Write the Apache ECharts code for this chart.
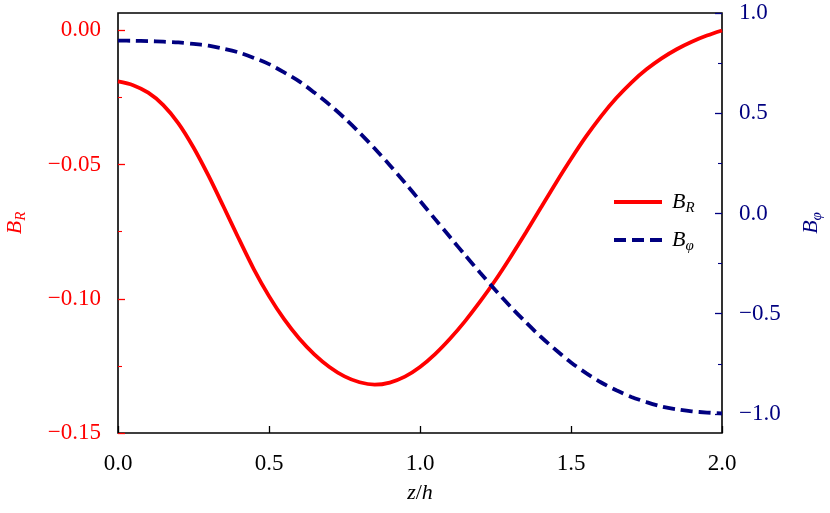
<!DOCTYPE html>
<html>
<head>
<meta charset="utf-8">
<script src="https://cdn.jsdelivr.net/npm/echarts@6/dist/echarts.min.js"></script>
<style>html,body{margin:0;padding:0;background:#fff}#c{width:830px;height:513px}</style>
</head>
<body>
<div id="c"></div>
<script>
// z/h sample positions
const zValues = [0.00,0.05,0.10,0.15,0.20,0.25,0.30,0.35,0.40,0.45,0.50,0.55,0.60,0.65,0.70,0.75,0.80,0.85,0.90,0.95,1.00,
                 1.05,1.10,1.15,1.20,1.25,1.30,1.35,1.40,1.45,1.50,1.55,1.60,1.65,1.70,1.75,1.80,1.85,1.90,1.95,2.00];
// B_R (left axis)
const bR = [-0.0190,-0.0204,-0.0232,-0.0278,-0.0346,-0.0436,-0.0542,-0.0658,-0.0776,-0.0890,-0.0990,-0.1076,-0.1148,-0.1207,-0.1254,-0.1289,-0.1311,-0.1320,-0.1312,-0.1290,-0.1254,
            -0.1206,-0.1148,-0.1082,-0.1009,-0.0930,-0.0844,-0.0754,-0.0661,-0.0568,-0.0479,-0.0395,-0.0319,-0.0252,-0.0194,-0.0145,-0.0104,-0.0070,-0.0042,-0.0019,0.0000];
// B_phi (right axis)
const bPhi = [0.862,0.8615,0.860,0.857,0.853,0.846,0.837,0.822,0.803,0.776,0.745,0.704,0.659,0.603,0.543,0.476,0.403,0.324,0.241,0.153,0.063,
              -0.028,-0.119,-0.209,-0.297,-0.383,-0.465,-0.542,-0.615,-0.681,-0.743,-0.796,-0.843,-0.882,-0.915,-0.941,-0.963,-0.977,-0.987,-0.993,-0.997];

const xTicks = [0, 0.5, 1.0, 1.5, 2.0];
const leftMajor = [-0.15, -0.10, -0.05, 0.00];
const leftMinor = [-0.125, -0.075, -0.025];
const rightMajor = [-1.0, -0.5, 0.0, 0.5, 1.0];
const rightMinor = [-0.75, -0.25, 0.25, 0.75];

const RED = '#ff0000';
const NAVY = '#000080';
const FONT = 'Liberation Serif';
const FS = 23;
const fmt = d => v => (v < 0 ? '\u2212' : '') + Math.abs(v).toFixed(d);

const richBase = (color) => ({
  i: {fontFamily: FONT, fontStyle: 'italic', fontSize: 22, color: color, lineHeight: 30, verticalAlign: 'middle'},
  u: {fontFamily: FONT, fontSize: 22, color: color, lineHeight: 30, verticalAlign: 'middle'},
  s: {fontFamily: FONT, fontStyle: 'italic', fontSize: 15, color: color, lineHeight: 30, verticalAlign: 'bottom', padding: [0,0,1,0]}
});

const chart = echarts.init(document.getElementById('c'), null, {renderer: 'canvas'});
const option = {
  animation: false,
  backgroundColor: '#fff',
  grid: {left: 118, right: 108, top: 13, height: 420, outerBoundsMode: 'none', containLabel: false,
         show: true, borderColor: '#000', borderWidth: 1.6, backgroundColor: 'transparent'},
  legend: {
    orient: 'vertical', left: 607, top: 186, itemWidth: 48, itemHeight: 2, itemGap: 12,
    data: ['BR', 'Bphi'],
    lineStyle: {width: 4},
    formatter: n => n === 'BR' ? '{i|B}{s|R}' : '{i|B}{s|\u03c6}',
    textStyle: {rich: richBase('#000'), padding: [0,0,0,5]}
  },
  xAxis: {
    type: 'value', min: 0, max: 2, interval: 0.5,
    axisLine: {show: false, onZero: false},
    axisTick: {show: true, inside: true, length: 7, lineStyle: {color: '#000', width: 1.3}, customValues: xTicks},
    axisLabel: {fontFamily: FONT, fontSize: FS, color: '#000', margin: 19, formatter: fmt(1), customValues: xTicks},
    splitLine: {show: false},
    name: '{i|z}{u|/}{i|h}', nameLocation: 'middle', nameGap: 45,
    nameTextStyle: {rich: richBase('#000')}
  },
  yAxis: [
    {
      type: 'value', position: 'left', min: -0.15, max: 0.0065,
      axisLine: {show: false, onZero: false},
      axisTick: {show: true, inside: true, length: 7, lineStyle: {color: RED, width: 1.3}, customValues: leftMajor},
      axisLabel: {fontFamily: FONT, fontSize: FS, color: RED, margin: 17, formatter: fmt(2), customValues: leftMajor},
      splitLine: {show: false},
      name: '{i|B}{s|R}', nameLocation: 'middle', nameGap: 88, nameRotate: 90,
      nameTextStyle: {rich: richBase(RED)}
    },
    {
      type: 'value', position: 'left', min: -0.15, max: 0.0065,
      axisLine: {show: false, onZero: false},
      axisTick: {show: true, inside: true, length: 4, lineStyle: {color: RED, width: 1.1}, customValues: leftMinor},
      axisLabel: {show: false},
      splitLine: {show: false}
    },
    {
      type: 'value', position: 'right', min: -1.095, max: 1.0,
      axisLine: {show: false, onZero: false},
      axisTick: {show: true, inside: true, length: 7, lineStyle: {color: NAVY, width: 1.3}, customValues: rightMajor},
      axisLabel: {fontFamily: FONT, fontSize: FS, color: NAVY, margin: 17, formatter: fmt(1), customValues: rightMajor},
      splitLine: {show: false},
      name: '{i|B}{s|\u03c6}', nameLocation: 'middle', nameGap: 74, nameRotate: 90,
      nameTextStyle: {rich: richBase(NAVY)}
    },
    {
      type: 'value', position: 'right', min: -1.095, max: 1.0,
      axisLine: {show: false, onZero: false},
      axisTick: {show: true, inside: true, length: 4, lineStyle: {color: NAVY, width: 1.1}, customValues: rightMinor},
      axisLabel: {show: false},
      splitLine: {show: false}
    }
  ],
  series: [
    {
      name: 'BR', type: 'line', yAxisIndex: 0, symbol: 'none', smooth: 0.3,
      lineStyle: {color: RED, width: 3.8},
      itemStyle: {color: RED},
      data: zValues.map((z, k) => [z, bR[k]])
    },
    {
      name: 'Bphi', type: 'line', yAxisIndex: 2, symbol: 'none', smooth: 0.3,
      lineStyle: {color: NAVY, width: 3.8, type: [12, 6]},
      itemStyle: {color: NAVY},
      data: zValues.map((z, k) => [z, bPhi[k]])
    }
  ]
};
chart.setOption(option);
</script>
</body>
</html>
